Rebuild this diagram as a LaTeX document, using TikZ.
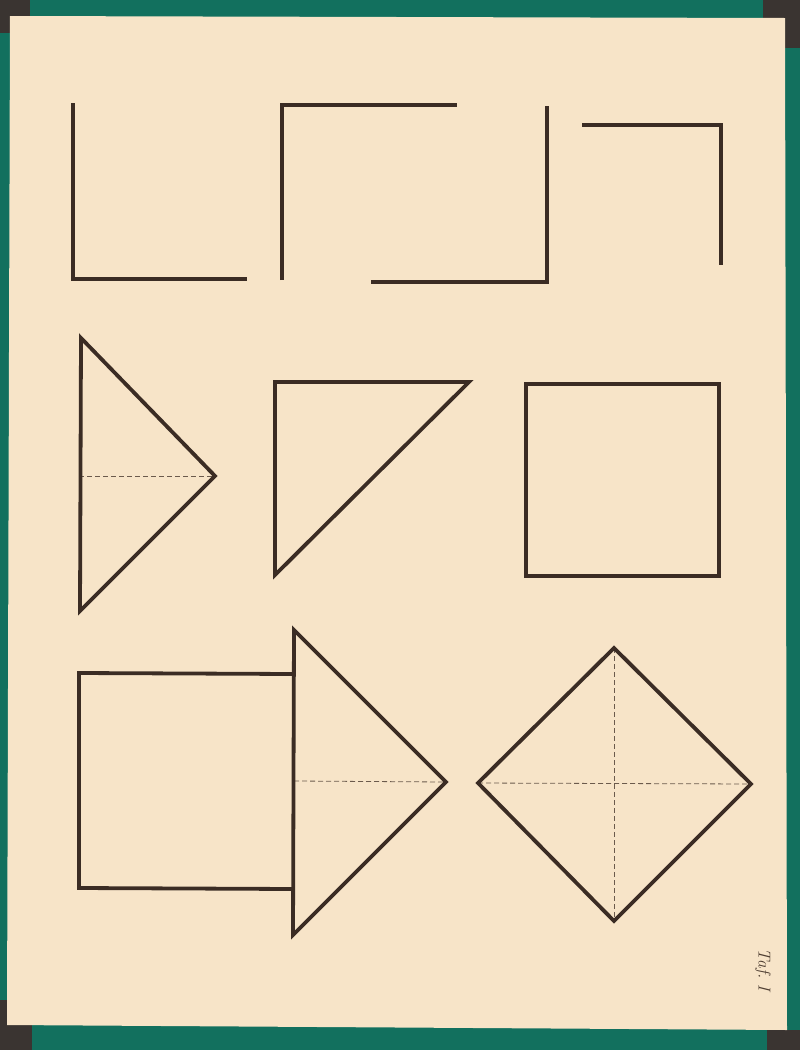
\documentclass[tikz,border=0pt]{standalone}
\usetikzlibrary{calc}
\definecolor{board}{HTML}{12705E}
\definecolor{darkcorner}{HTML}{3A3431}
\definecolor{paper}{HTML}{F7E4C8}
\definecolor{ink}{HTML}{3B2C24}
\definecolor{dashink}{HTML}{6B5A4C}
\definecolor{pencil}{HTML}{4E3E32}
\tikzset{
  shapeline/.style={draw=ink, line width=3.8pt, line join=miter, line cap=butt},
  guide/.style={draw=dashink, line width=0.8pt, dash pattern=on 5pt off 3pt},
}
\begin{document}
\begin{tikzpicture}[x=1pt,y=-1pt]
\useasboundingbox (0,0) rectangle (800,1050);
% board and paper
\fill[board] (0,0) rectangle (800,1050);
\fill[darkcorner] (0,0) rectangle (30,33);
\fill[darkcorner] (763,0) rectangle (800,48);
\fill[darkcorner] (767,1030) rectangle (800,1050);
\fill[darkcorner] (0,1000) rectangle (32,1050);
\fill[paper] (10,16) -- (785,18) -- (787,1030) -- (7,1025) -- cycle;

% row 1: open corners
\coordinate (a1) at (73,103); \coordinate (a2) at (73,279); \coordinate (a3) at (247,279);
\draw[shapeline] (a1) -- (a2) -- (a3);
\coordinate (b1) at (282,280); \coordinate (b2) at (282,105); \coordinate (b3) at (457,105);
\draw[shapeline] (b1) -- (b2) -- (b3);
\coordinate (c1) at (547,106); \coordinate (c2) at (547,282); \coordinate (c3) at (371,282);
\draw[shapeline] (c1) -- (c2) -- (c3);
\coordinate (d1) at (582,125); \coordinate (d2) at (721,125); \coordinate (d3) at (721,265);
\draw[shapeline] (d1) -- (d2) -- (d3);

% row 2
\coordinate (t1a) at (81,338); \coordinate (t1b) at (215,476); \coordinate (t1c) at (80,611);
\coordinate (t1m) at (79,476);
\draw[guide] (t1m) -- (t1b);
\draw[shapeline] (t1a) -- (t1b) -- (t1c) -- cycle;

\coordinate (t2a) at (275,382); \coordinate (t2b) at (469,382); \coordinate (t2c) at (275,575);
\draw[shapeline] (t2a) -- (t2b) -- (t2c) -- cycle;

\coordinate (s1a) at (526,384); \coordinate (s1b) at (719,384); \coordinate (s1c) at (719,576); \coordinate (s1d) at (526,576);
\draw[shapeline] (s1a) -- (s1b) -- (s1c) -- (s1d) -- cycle;

% row 3: square with triangle
\coordinate (q1) at (294,674); \coordinate (q2) at (79,673); \coordinate (q3) at (79,888); \coordinate (q4) at (294,889);
\draw[shapeline] (q1) -- (q2) -- (q3) -- (q4);
\coordinate (t3a) at (294,630); \coordinate (t3b) at (446,782); \coordinate (t3c) at (293,935);
\coordinate (t3m) at (294,781);
\draw[guide] (t3m) -- (t3b);
\draw[shapeline] (t3a) -- (t3b) -- (t3c) -- cycle;

% diamond
\coordinate (dt) at (614,648); \coordinate (dr) at (751,784); \coordinate (db) at (614,921); \coordinate (dl) at (478,783);
\draw[guide] (dt) -- (db);
\draw[guide] (dl) -- (dr);
\draw[shapeline] (dt) -- (dr) -- (db) -- (dl) -- cycle;

% handwritten label
\node[rotate=-90, text=pencil, font=\itshape\LARGE, inner sep=0pt] (lbl) at (763,970) {Taf.\ I};
\end{tikzpicture}
\end{document}
